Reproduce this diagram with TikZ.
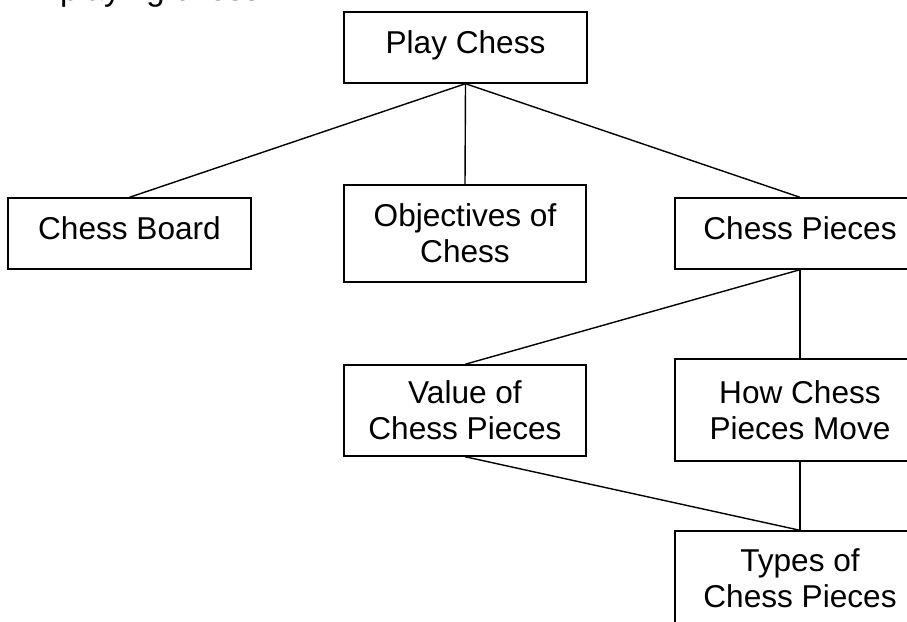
\documentclass[tikz,border=0pt]{standalone}
\usepackage{fontspec}
\setmainfont{Liberation Sans}
\begin{document}
\begin{tikzpicture}[x=1pt,y=-1pt,
  box/.style={draw, line width=1.4pt, inner sep=0pt, align=center,
    font=\fontsize{31.6}{36}\selectfont},
  oneline/.style={text height=23pt, text depth=12pt},
  link/.style={line width=1.4pt}]
\useasboundingbox (0,0) rectangle (907,621);
\clip (0,0) rectangle (907,621);
% partly visible text line at the top edge
\node[anchor=base west, inner sep=0pt, font=\fontsize{33}{40}\selectfont] (intro) at (60,1) {playing chess.};
% boxes
\node[box, oneline, minimum width=243pt, minimum height=71pt] (pc) at (465.5,47.5) {Play Chess};
\node[box, oneline, minimum width=243pt, minimum height=71pt] (cb) at (129.5,233.5) {Chess Board};
\node[box, minimum width=242pt, minimum height=97pt] (ob) at (465,233.5) {Objectives of\\Chess};
\node[box, oneline, minimum width=250pt, minimum height=71pt] (cp) at (800,233.5) {Chess Pieces};
\node[box, minimum width=242pt, minimum height=91pt] (vp) at (465,410.5) {Value of\\Chess Pieces};
\node[box, minimum width=250pt, minimum height=102pt] (hm) at (800,410) {How Chess\\Pieces Move};
\node[box, minimum width=250pt, minimum height=95pt] (tp) at (800,578.5) {Types of\\Chess Pieces};
% connectors
\draw[link] (pc.south) -- (cb.north);
\draw[link] (pc.south) -- (ob.north);
\draw[link] (pc.south) -- (cp.north);
\draw[link] (cp.south) -- (vp.north);
\draw[link] (cp.south) -- (hm.north);
\draw[link] (vp.south) -- (tp.north);
\draw[link] (hm.south) -- (tp.north);
\end{tikzpicture}
\end{document}
